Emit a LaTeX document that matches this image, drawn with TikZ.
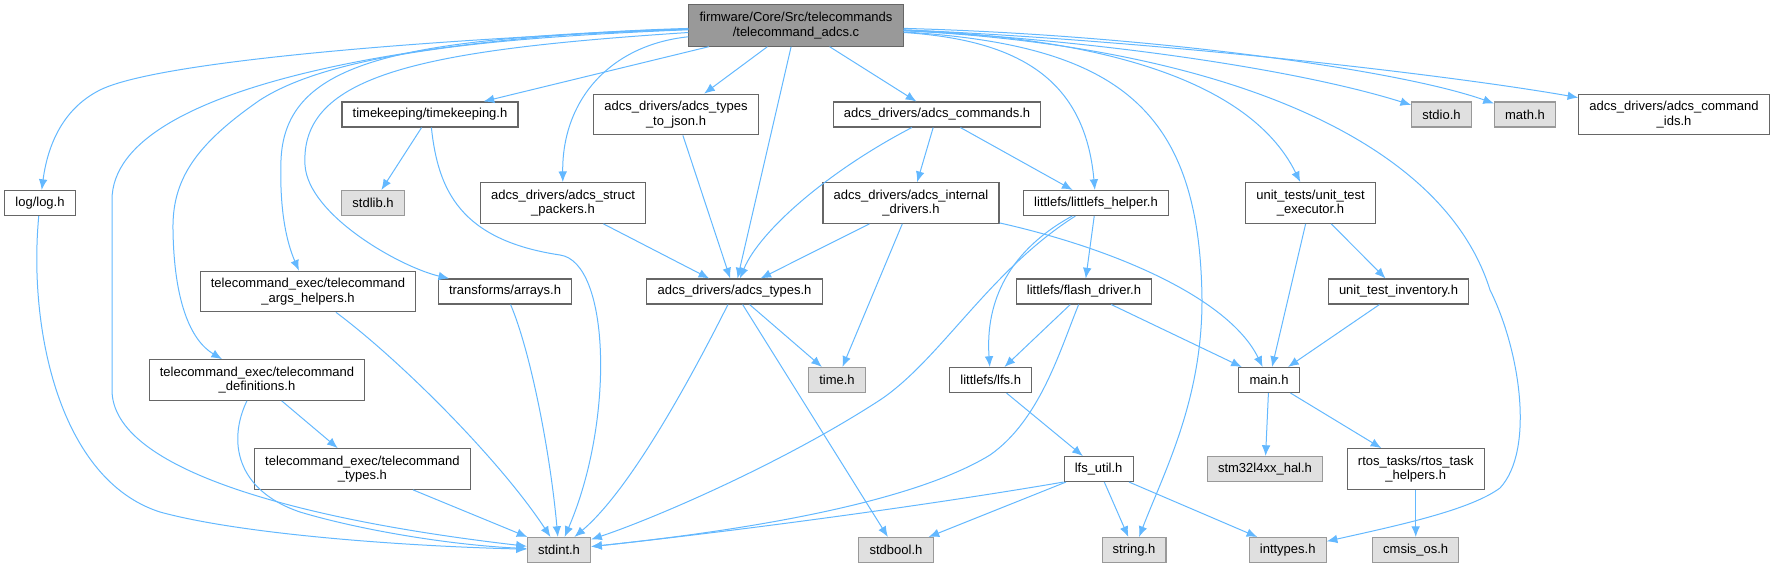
\documentclass[tikz,border=0pt]{standalone}
\usepackage{fontspec}
\setmainfont{Liberation Sans}
\usetikzlibrary{arrows.meta}
\definecolor{edgeblue}{HTML}{63B8FF}
\definecolor{boxline}{HTML}{666666}
\definecolor{sysline}{HTML}{999999}
\definecolor{sysfill}{HTML}{E0E0E0}
\definecolor{mainfill}{HTML}{999999}
\begin{document}
\begin{tikzpicture}[x=0.75pt,y=-0.75pt,
    every node/.style={font=\fontsize{9.75pt}{11pt}\selectfont, inner xsep=8pt, inner ysep=2pt,
      minimum height=18.75pt, align=center},
    hdr/.style={draw=boxline, fill=white, line width=0.8pt},
    hdrtwo/.style={hdr, minimum height=30.5pt},
    sys/.style={draw=sysline, fill=sysfill, line width=0.8pt},
    src/.style={draw=boxline, fill=mainfill, line width=0.8pt, minimum height=31pt},
    dep/.style={draw=edgeblue, line width=0.75pt, -{Latex[length=8pt,width=6.5pt]}}]
      \useasboundingbox (0,0) rectangle (1776,568);

      % top file
      \draw (796,25.5) node[src] (tcadcs) {firmware/Core/Src/telecommands\\/telecommand\_adcs.c};

      % second row
      \draw (430,114.5) node[hdr] (timek) {timekeeping/timekeeping.h};
      \draw (676,114.5) node[hdrtwo] (tojson) {adcs\_drivers/adcs\_types\\\_to\_json.h};
      \draw (937,114.5) node[hdr] (adcscmds) {adcs\_drivers/adcs\_commands.h};
      \draw (1441.5,114.5) node[sys] (stdioh) {stdio.h};
      \draw (1525,114.5) node[sys] (mathh) {math.h};
      \draw (1674,114.5) node[hdrtwo] (cmdids) {adcs\_drivers/adcs\_command\\\_ids.h};

      % third row
      \draw (40,203) node[hdr] (loglog) {log/log.h};
      \draw (373,203) node[sys] (stdlibh) {stdlib.h};
      \draw (563,203) node[hdrtwo] (structp) {adcs\_drivers/adcs\_struct\\\_packers.h};
      \draw (911,203) node[hdrtwo] (internal) {adcs\_drivers/adcs\_internal\\\_drivers.h};
      \draw (1096,203) node[hdr] (lfshelper) {littlefs/littlefs\_helper.h};
      \draw (1310.5,203) node[hdrtwo] (utexec) {unit\_tests/unit\_test\\\_executor.h};

      % fourth row
      \draw (308,291.5) node[hdrtwo] (args) {telecommand\_exec/telecommand\\\_args\_helpers.h};
      \draw (505,291.5) node[hdr] (arrays) {transforms/arrays.h};
      \draw (734.5,291.5) node[hdr] (adcstypes) {adcs\_drivers/adcs\_types.h};
      \draw (1084,291.5) node[hdr] (flash) {littlefs/flash\_driver.h};
      \draw (1398.5,291.5) node[hdr] (utinv) {unit\_test\_inventory.h};

      % fifth row
      \draw (257,380) node[hdrtwo] (tcdefs) {telecommand\_exec/telecommand\\\_definitions.h};
      \draw (837,380) node[sys] (timeh) {time.h};
      \draw (990.7,380) node[hdr] (lfsh) {littlefs/lfs.h};
      \draw (1269,380) node[hdr] (mainh) {main.h};

      % sixth row
      \draw (362.4,469) node[hdrtwo] (tctypes) {telecommand\_exec/telecommand\\\_types.h};
      \draw (1098.6,469) node[hdr] (lfsutil) {lfs\_util.h};
      \draw (1265,469) node[sys] (stm32) {stm32l4xx\_hal.h};
      \draw (1415.7,469) node[hdrtwo] (rtos) {rtos\_tasks/rtos\_task\\\_helpers.h};

      % bottom row
      \draw (559,550) node[sys] (stdint) {stdint.h};
      \draw (896,550) node[sys] (stdbool) {stdbool.h};
      \draw (1134,550) node[sys] (stringh) {string.h};
      \draw (1287.7,550) node[sys] (inttypes) {inttypes.h};
      \draw (1415.7,550) node[sys] (cmsis) {cmsis\_os.h};

      % includes of the top file
      \draw[dep] (tcadcs) .. controls (450,38) and (160,60) .. (100,90) .. controls (60,110) and (47,150) .. (loglog);
      \draw[dep] (tcadcs) .. controls (450,35) and (112,80) .. (112,200) -- (112,390) .. controls (112,470) and (300,520) .. (stdint);
      \draw[dep] (tcadcs) .. controls (480,38) and (330,55) .. (260,100) .. controls (195,145) and (172,180) .. (173,230) .. controls (174,300) and (190,340) .. (tcdefs);
      \draw[dep] (tcadcs) .. controls (400,38) and (285,60) .. (281,160) .. controls (279,220) and (290,250) .. (args);
      \draw[dep] (tcadcs) .. controls (420,50) and (300,75) .. (305,165) .. controls (308,215) and (400,267) .. (arrays);
      \draw[dep] (tcadcs) -- (timek);
      \draw[dep] (tcadcs) .. controls (610,45) and (562,100) .. (structp);
      \draw[dep] (tcadcs) -- (tojson);
      \draw[dep] (tcadcs) -- (adcstypes);
      \draw[dep] (tcadcs) -- (adcscmds);
      \draw[dep] (tcadcs) .. controls (1020,40) and (1085,80) .. (lfshelper);
      \draw[dep] (tcadcs) .. controls (1120,45) and (1200,110) .. (1202,300) .. controls (1202,400) and (1165,470) .. (stringh);
      \draw[dep] (tcadcs) .. controls (1150,40) and (1260,100) .. (utexec);
      \draw[dep] (tcadcs) .. controls (1200,45) and (1440,130) .. (1490,290) .. controls (1520,350) and (1535,450) .. (1500,488) .. controls (1470,510) and (1400,525) .. (inttypes);
      \draw[dep] (tcadcs) .. controls (1100,40) and (1300,70) .. (stdioh);
      \draw[dep] (tcadcs) .. controls (1150,35) and (1400,70) .. (mathh);
      \draw[dep] (tcadcs) .. controls (1150,40) and (1450,75) .. (cmdids);

      % the other includes
      \draw[dep] (loglog) .. controls (28,330) and (60,480) .. (160,512) .. controls (240,534) and (400,546) .. (stdint);
      \draw[dep] (timek) -- (stdlibh);
      \draw[dep] (timek) .. controls (438,190) and (460,240) .. (560,255) .. controls (610,262) and (615,420) .. (stdint);
      \draw[dep] (structp) -- (adcstypes);
      \draw[dep] (tojson) -- (adcstypes);
      \draw[dep] (adcscmds) .. controls (830,170) and (760,230) .. (adcstypes);
      \draw[dep] (adcscmds) -- (internal);
      \draw[dep] (adcscmds) -- (lfshelper);
      \draw[dep] (internal) -- (adcstypes);
      \draw[dep] (internal) -- (timeh);
      \draw[dep] (internal) .. controls (1120,250) and (1230,300) .. (mainh);
      \draw[dep] (lfshelper) .. controls (990,270) and (940,360) .. (880,400) .. controls (780,465) and (650,520) .. (stdint);
      \draw[dep] (lfshelper) .. controls (1010,250) and (985,300) .. (lfsh);
      \draw[dep] (lfshelper) -- (flash);
      \draw[dep] (flash) -- (lfsh);
      \draw[dep] (flash) .. controls (1060,350) and (1040,420) .. (990,455) .. controls (900,510) and (700,535) .. (stdint);
      \draw[dep] (flash) -- (mainh);
      \draw[dep] (adcstypes) .. controls (690,380) and (630,490) .. (stdint);
      \draw[dep] (adcstypes) -- (stdbool);
      \draw[dep] (adcstypes) -- (timeh);
      \draw[dep] (lfsh) -- (lfsutil);
      \draw[dep] (lfsutil.south west) .. controls (900,510) and (700,535) .. (stdint);
      \draw[dep] (lfsutil) -- (stdbool);
      \draw[dep] (lfsutil) -- (stringh);
      \draw[dep] (lfsutil) -- (inttypes);
      \draw[dep] (args) .. controls (400,360) and (500,460) .. (stdint);
      \draw[dep] (arrays) .. controls (530,350) and (550,450) .. (stdint);
      \draw[dep] (tcdefs) .. controls (228,440) and (235,490) .. (300,512) .. controls (360,530) and (450,545) .. (stdint);
      \draw[dep] (tcdefs) -- (tctypes);
      \draw[dep] (tctypes) -- (stdint);
      \draw[dep] (utexec) -- (mainh);
      \draw[dep] (utexec) -- (utinv);
      \draw[dep] (utinv) -- (mainh);
      \draw[dep] (mainh) -- (stm32);
      \draw[dep] (mainh) -- (rtos);
      \draw[dep] (rtos) -- (cmsis);
    \end{tikzpicture}
\end{document}
